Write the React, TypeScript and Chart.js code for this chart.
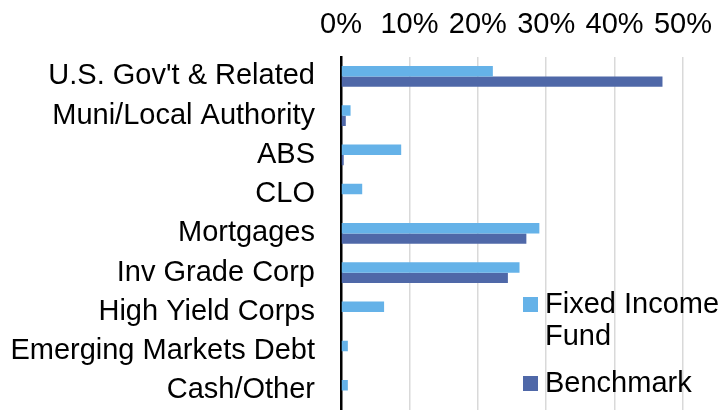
import { useEffect, useRef } from "react";
import { Chart, registerables } from "chart.js";

Chart.register(...registerables);

const categories = [
  "U.S. Gov't & Related",
  "Muni/Local Authority",
  "ABS",
  "CLO",
  "Mortgages",
  "Inv Grade Corp",
  "High Yield Corps",
  "Emerging Markets Debt",
  "Cash/Other",
];
const fundValues = [22.2, 1.4, 8.8, 3.1, 29.0, 26.1, 6.3, 1.0, 1.0];
const benchmarkValues = [47.0, 0.7, 0.4, 0, 27.1, 24.4, 0, 0, 0];
const seriesNames = ["Fixed Income Fund", "Benchmark"];
const seriesColors = ["#65b2e8", "#4f68a8"];
const xTickValues = [0, 10, 20, 30, 40, 50];

const FONT = "'Liberation Sans', Arial, sans-serif";
const FONT_SIZE = 29;

const legendPlugin = {
  id: "customLegend",
  afterDraw(chart: any) {
    const ctx = chart.ctx;
    ctx.save();
    ctx.font = `${FONT_SIZE}px ${FONT}`;
    ctx.textBaseline = "alphabetic";
    ctx.textAlign = "left";
    const markerX = 523;
    const textX = 545;
    const maxW = 180;
    const lineH = 32;
    const itemGap = 47;
    let baseline = 313;
    chart.data.datasets.forEach((ds: any) => {
      const words = String(ds.label).split(" ");
      const lines: string[] = [];
      let cur = "";
      words.forEach((w) => {
        const t = cur ? cur + " " + w : w;
        if (ctx.measureText(t).width > maxW && cur) {
          lines.push(cur);
          cur = w;
        } else cur = t;
      });
      if (cur) lines.push(cur);
      ctx.fillStyle = ds.backgroundColor;
      ctx.fillRect(markerX, baseline - 16, 15, 15);
      ctx.fillStyle = "#000";
      lines.forEach((ln, k) => ctx.fillText(ln, textX, baseline + k * lineH));
      baseline += (lines.length - 1) * lineH + itemGap;
    });
    ctx.restore();
  },
};

export default function App() {
  const ref = useRef<HTMLCanvasElement | null>(null);
  useEffect(() => {
    if (!ref.current) return;
    const chart = new Chart(ref.current, {
      type: "bar",
      data: {
        labels: categories,
        datasets: [
          {
            label: seriesNames[0],
            data: fundValues,
            backgroundColor: seriesColors[0],
            borderWidth: 0,
            barPercentage: 1,
            categoryPercentage: 0.53,
          },
          {
            label: seriesNames[1],
            data: benchmarkValues,
            backgroundColor: seriesColors[1],
            borderWidth: 0,
            barPercentage: 1,
            categoryPercentage: 0.53,
          },
        ],
      },
      options: {
        indexAxis: "y",
        animation: false,
        responsive: false,
        maintainAspectRatio: false,
        layout: { padding: { top: -6, right: 37, bottom: 0, left: 3 } },
        plugins: {
          legend: { display: false },
          tooltip: { enabled: false },
        },
        scales: {
          x: {
            position: "top",
            min: 0,
            max: 50,
            afterBuildTicks(axis: any) {
              axis.ticks = xTickValues.map((v) => ({ value: v }));
            },
            afterFit(scale: any) {
              scale.paddingLeft = 0;
              scale.paddingRight = 0;
            },
            ticks: {
              callback: (v: any) => `${v}%`,
              color: "#000",
              font: { family: FONT, size: FONT_SIZE },
              padding: 14,
              maxRotation: 0,
            },
            grid: {
              color: "#d9d9d9",
              lineWidth: 1.5,
              drawTicks: false,
            },
            border: { display: false },
          },
          y: {
            afterFit(scale: any) {
              scale.paddingTop = 0;
              scale.paddingBottom = 0;
              scale.width = 338;
            },
            ticks: {
              color: "#000",
              font: { family: FONT, size: FONT_SIZE },
              padding: 26,
              autoSkip: false,
            },
            grid: { display: false, drawTicks: false },
            border: { display: true, color: "#000", width: 2.5 },
          },
        },
      },
      plugins: [legendPlugin],
    } as any);
    return () => chart.destroy();
  }, []);
  return (
    <div style={{ position: "fixed", left: 0, top: 0, width: 720, height: 410, background: "#fff" }}>
      <canvas ref={ref} width={720} height={410} style={{ width: 720, height: 410, display: "block" }} />
    </div>
  );
}
